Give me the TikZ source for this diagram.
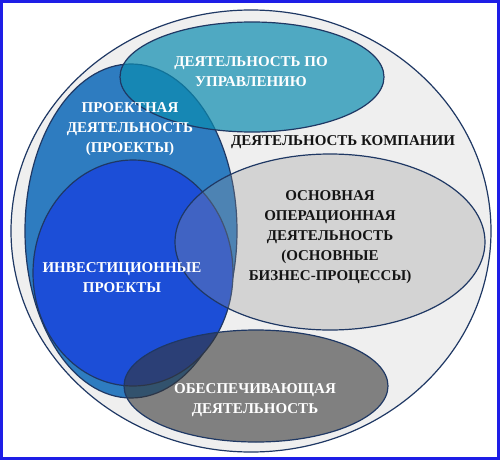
\documentclass[tikz,border=0pt]{standalone}
\usepackage{fontspec}
\setmainfont{Liberation Serif}
\usetikzlibrary{shapes.geometric}
\definecolor{framecol}{RGB}{30,30,230}
\definecolor{edgecol}{RGB}{31,56,100}
\definecolor{outercol}{RGB}{239,239,239}
\definecolor{projcol}{RGB}{46,124,192}
\definecolor{investcol}{RGB}{28,78,215}
\definecolor{mgmtcol}{RGB}{12,140,176}
\definecolor{maincol}{RGB}{149,149,149}
\definecolor{supcol}{RGB}{54,54,54}
\definecolor{textcol}{RGB}{20,20,20}
\begin{document}
\begin{tikzpicture}[x=1pt, y=-1pt,
    area/.style={ellipse, draw=edgecol, line width=1.2pt, inner sep=0pt},
    lbl/.style={font=\bfseries\fontsize{15}{20}\selectfont, align=center, text=textcol}]
    \useasboundingbox (0,0) rectangle (500,460);
    \draw[framecol, line width=3pt] (1.5,1.5) rectangle (498.5,458.5);

    \node[area, fill=outercol, minimum width=480pt, minimum height=442pt] (company) at (251,231) {};
    \node[area, fill=projcol, minimum width=212pt, minimum height=334pt] (proj) at (131,231) {};
    \node[area, fill=investcol, minimum width=200pt, minimum height=226pt] (invest) at (133,273) {};
    \node[area, fill=mgmtcol, fill opacity=0.7, minimum width=264pt, minimum height=110pt] (mgmt) at (252,77) {};
    \node[area, fill=maincol, fill opacity=0.3, minimum width=310pt, minimum height=176pt] (main) at (330,242) {};
    \node[area, fill=supcol, fill opacity=0.6, minimum width=264pt, minimum height=112pt] (sup) at (256,386) {};

    \node[lbl, text=white] (mgmtlbl) at (251,72) {ДЕЯТЕЛЬНОСТЬ ПО\\УПРАВЛЕНИЮ};
    \node[lbl, text=white] (projlbl) at (130,129) {ПРОЕКТНАЯ\\ДЕЯТЕЛЬНОСТЬ\\(ПРОЕКТЫ)};
    \node[lbl] (complbl) at (343,142) {ДЕЯТЕЛЬНОСТЬ КОМПАНИИ};
    \node[lbl] (mainlbl) at (330,237) {ОСНОВНАЯ\\ОПЕРАЦИОННАЯ\\ДЕЯТЕЛЬНОСТЬ\\(ОСНОВНЫЕ\\БИЗНЕС-ПРОЦЕССЫ)};
    \node[lbl, text=white] (invlbl) at (122,278) {ИНВЕСТИЦИОННЫЕ\\ПРОЕКТЫ};
    \node[lbl, text=white] (suplbl) at (255,400) {ОБЕСПЕЧИВАЮЩАЯ\\ДЕЯТЕЛЬНОСТЬ};
\end{tikzpicture}
\end{document}
